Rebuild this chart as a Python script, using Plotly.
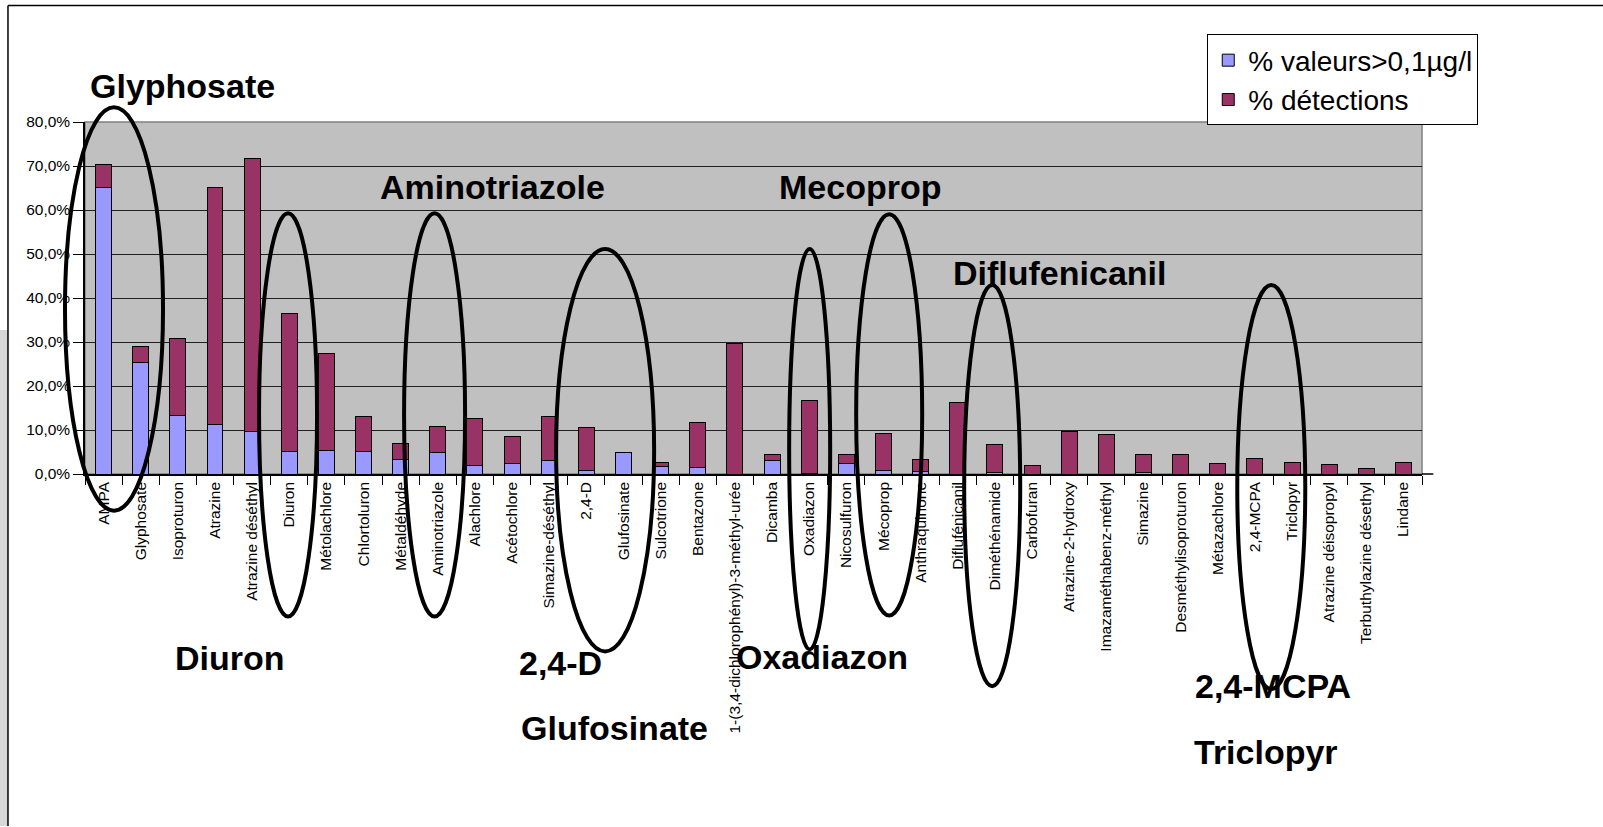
import plotly.graph_objects as go

# ---------------- data ----------------
categories = [
    "AMPA", "Glyphosate", "Isoproturon", "Atrazine", "Atrazine déséthyl", "Diuron",
    "Métolachlore", "Chlortoluron", "Métaldéhyde", "Aminotriazole", "Alachlore",
    "Acétochlore", "Simazine-déséthyl", "2,4-D", "Glufosinate", "Sulcotrione",
    "Bentazone", "1-(3,4-dichlorophényl)-3-méthyl-urée", "Dicamba", "Oxadiazon",
    "Nicosulfuron", "Mécoprop", "Anthraquinone", "Diflufénicanil", "Diméthénamide",
    "Carbofuran", "Atrazine-2-hydroxy", "Imazaméthabenz-méthyl", "Simazine",
    "Desméthylisoproturon", "Métazachlore", "2,4-MCPA", "Triclopyr",
    "Atrazine déisopropyl", "Terbuthylazine désethyl", "Lindane",
]
# % of values above 0.1 µg/l (lower, blue segment)
valeurs = [65.1, 25.4, 13.3, 11.3, 9.7, 5.1, 5.4, 5.1, 3.3, 4.8, 2.0, 2.3,
           3.0, 0.9, 4.9, 1.7, 1.4, 0.0, 3.0, 0.1, 2.3, 0.9, 0.6, 0.0, 0.4,
           0.0, 0.0, 0.0, 0.4, 0.0, 0.0, 0.0, 0.0, 0.0, 0.0, 0.0]
# % detections (upper, stacked segment)
detections = [5.2, 3.6, 17.6, 53.8, 62.1, 31.3, 22.1, 7.9, 3.7, 6.0, 10.6, 6.2,
              10.0, 9.6, 0.0, 1.0, 10.3, 29.6, 1.45, 16.5, 2.15, 8.4, 2.6, 16.3, 6.2,
              2.0, 9.7, 9.0, 4.05, 4.5, 2.3, 3.5, 2.7, 2.1, 1.2, 2.7]
series_names = ["% valeurs>0,1µg/l", "% détections"]
y_ticks = [0, 10, 20, 30, 40, 50, 60, 70, 80]
y_ticktext = [("%.1f%%" % v).replace(".", ",") for v in y_ticks]

# annotation labels: (text, centre x px, centre y px)
labels = [
    ("Glyphosate", 182, 84), ("Aminotriazole", 492, 185), ("Mecoprop", 860, 185),
    ("Diflufenicanil", 1059, 271), ("Diuron", 230, 657), ("2,4-D", 560, 662),
    ("Glufosinate", 614, 727), ("Oxadiazon", 822, 656), ("2,4-MCPA", 1273, 685),
    ("Triclopyr", 1266, 751),
]
# highlight ellipses: (x0, x1, ytop, ybottom) in px
ellipses = [
    (65, 163, 107, 511), (259, 317, 213, 617), (404, 465, 213, 617),
    (556, 654, 249, 652), (789, 830, 249, 650), (856, 922, 214, 616),
    (964, 1020, 285, 687), (1237, 1305, 285, 690),
]

# ---------------- layout geometry ----------------
W_FIG, H_FIG = 1603, 827
L, R_EDGE, T, B = 85, 1421.7, 121.7, 474.3
PW, PH = R_EDGE - L, B - T


def px(xp):
    return (xp - L) / PW


def py(yp):
    return (B - yp) / PH


FONT = "Arial, Liberation Sans, sans-serif"

fig = go.Figure()
fig.add_trace(go.Bar(x=categories, y=valeurs, name=series_names[0], width=0.43,
                     marker=dict(color="#9999FF", line=dict(color="#000000", width=1))))
fig.add_trace(go.Bar(x=categories, y=detections, name=series_names[1], width=0.43,
                     marker=dict(color="#993366", line=dict(color="#000000", width=1))))

shapes = []
# frame of the slide
shapes.append(dict(type="rect", xref="paper", yref="paper", x0=px(0), x1=px(8),
                   y0=py(827), y1=py(330), fillcolor="#d8d8d8", line=dict(width=0),
                   layer="below"))
shapes.append(dict(type="line", xref="paper", yref="paper", x0=px(8), x1=px(1603),
                   y0=py(5), y1=py(5), line=dict(color="#000000", width=1.5)))
shapes.append(dict(type="line", xref="paper", yref="paper", x0=px(8), x1=px(8),
                   y0=py(5), y1=py(827), line=dict(color="#000000", width=1.5)))
# plot area border (top / right)
shapes.append(dict(type="rect", xref="paper", yref="paper", x0=0, x1=1, y0=0, y1=1,
                   line=dict(color="#808080", width=1.5), layer="below"))
# x axis line runs slightly beyond the plot area
shapes.append(dict(type="line", xref="paper", yref="paper", x0=1, x1=px(1433),
                   y0=0, y1=0, line=dict(color="#000000", width=1.5)))
for (x0, x1, yt, yb) in ellipses:
    shapes.append(dict(type="circle", xref="paper", yref="paper",
                       x0=px(x0), x1=px(x1), y0=py(yb), y1=py(yt),
                       line=dict(color="#000000", width=4)))

annotations = []
for (txt, cx, cy) in labels:
    annotations.append(dict(text="<b>%s</b>" % txt, xref="paper", yref="paper",
                            x=px(cx), y=py(cy + 2), xanchor="center", yanchor="middle",
                            showarrow=False, font=dict(family=FONT, size=34, color="#000000")))

fig.update_layout(
    width=W_FIG, height=H_FIG,
    margin=dict(l=L, r=W_FIG - R_EDGE, t=T, b=H_FIG - B, pad=0),
    paper_bgcolor="#FFFFFF", plot_bgcolor="#C0C0C0",
    barmode="stack", bargap=0.57,
    font=dict(family=FONT, size=14, color="#000000"),
    showlegend=True,
    legend=dict(x=px(1207), y=py(34), xanchor="left", yanchor="top",
                traceorder="normal", bgcolor="#FFFFFF", bordercolor="#000000",
                borderwidth=1, font=dict(family=FONT, size=28, color="#000000"),
                itemwidth=30, tracegroupgap=0),
    shapes=shapes,
    annotations=annotations,
)
fig.update_xaxes(type="category", tickson="boundaries", ticks="outside", ticklen=9,
                 tickcolor="#000000", tickangle=-90, showline=True, linecolor="#000000",
                 linewidth=1.5, showgrid=False, tickfont=dict(family=FONT, size=15.5),
                 range=[-0.5, len(categories) - 0.5])
fig.update_yaxes(range=[0, 80], tickmode="array", tickvals=y_ticks, ticktext=y_ticktext,
                 ticks="outside", ticklen=10, tickcolor="#000000", showline=True,
                 linecolor="#000000", linewidth=1.5, showgrid=True, gridcolor="#202020",
                 gridwidth=1, zeroline=False, tickfont=dict(family=FONT, size=15.5))

fig.write_html("out.html", config={"displayModeBar": False},
               post_script="document.body.style.margin='0px';document.body.style.padding='0px';")
